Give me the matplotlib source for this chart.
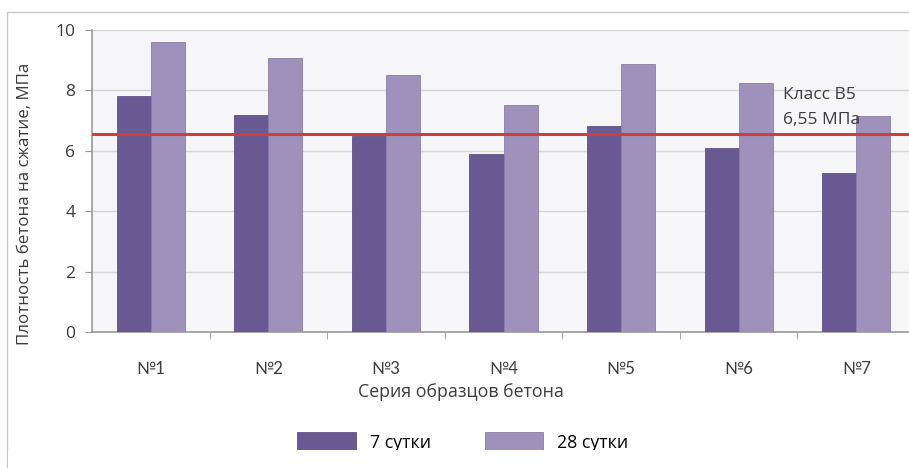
import matplotlib
matplotlib.use("Agg")
import matplotlib.pyplot as plt
from matplotlib.patches import Rectangle
import numpy as np

plt.rcParams['font.family'] = ['Open Sans', 'DejaVu Sans']

# Данные: прочность образцов по сериям
series = ['№1', '№2', '№3', '№4', '№5', '№6', '№7']
days_7 = [7.8, 7.2, 6.5, 5.9, 6.83, 6.1, 5.27]
days_28 = [9.6, 9.07, 8.5, 7.5, 8.88, 8.24, 7.15]
class_b5 = 6.55

W, H = 909, 468
txt = '#3c3c3c'
fig = plt.figure(figsize=(W / 100, H / 100), dpi=100)

# рамка вокруг диаграммы
fig.patches.append(Rectangle((7 / W, -0.1), 1.0, 1 - 12 / H + 0.1,
                             transform=fig.transFigure, fill=False,
                             edgecolor='#c8c8c8', linewidth=1))

ax = fig.add_axes([92 / W, 1 - 332 / H, 823 / W, 302 / H])
ax.set_facecolor('#f6f6f8')

x = np.arange(len(series))
w = 0.29
ax.bar(x - w / 2, days_7, w, color='#6a5a94', edgecolor='#5e5088', linewidth=0.6,
       label='7 сутки', zorder=3)
ax.bar(x + w / 2, days_28, w, color='#9e91bc', edgecolor='#8a7daa', linewidth=0.6,
       label='28 сутки', zorder=3)

ax.axhline(class_b5, color='#c6423e', linewidth=2.2, zorder=4)
ax.text(5.375, 7.45, 'Класс В5\n6,55 МПа', fontsize=12.5, color=txt,
        va='center', ha='left', linespacing=1.75, zorder=5)

ax.set_xlim(-0.5, len(series) - 0.5)
ax.set_ylim(0, 10)
ax.set_yticks([0, 2, 4, 6, 8, 10])
ax.grid(axis='y', color='#d4d4d4', linewidth=1, zorder=0)

ax.set_xticks(x)
ax.set_xticklabels(series, fontsize=12, color=txt, family=['Lato', 'DejaVu Sans'])
ax.set_xticks(np.arange(0.5, len(series) - 0.5, 1), minor=True)
ax.tick_params(axis='x', which='major', length=0, pad=21)
ax.tick_params(axis='x', which='minor', length=5, color='#9a9a9a', direction='out')
ax.tick_params(axis='y', length=5, color='#9a9a9a', labelsize=12.5,
               labelcolor=txt, pad=7)

for s in ['top', 'right']:
    ax.spines[s].set_visible(False)
for s in ['left', 'bottom']:
    ax.spines[s].set_color('#9a9a9a')
    ax.spines[s].set_linewidth(1.2)

ax.set_ylabel('Плотность бетона на сжатие, МПа', fontsize=12.2, color=txt)
ax.yaxis.set_label_coords((33 - 92) / 823, 0.425)
fig.text(461 / W, 1 - 392 / H, 'Серия образцов бетона', fontsize=12.8,
         color=txt, ha='center', va='center')

fig.legend(loc='center', bbox_to_anchor=(463 / W, 1 - 442 / H), ncol=2,
           frameon=False, fontsize=12.8, handlelength=3.3, handleheight=1.25,
           columnspacing=3.0, handletextpad=0.8)

# нижняя часть области обрезана белым полем
fig.patches.append(Rectangle((8 / W, 0), 1.0, 18 / H, transform=fig.transFigure,
                             facecolor='white', edgecolor='none', zorder=10))

fig.savefig('out.png', dpi=100)
